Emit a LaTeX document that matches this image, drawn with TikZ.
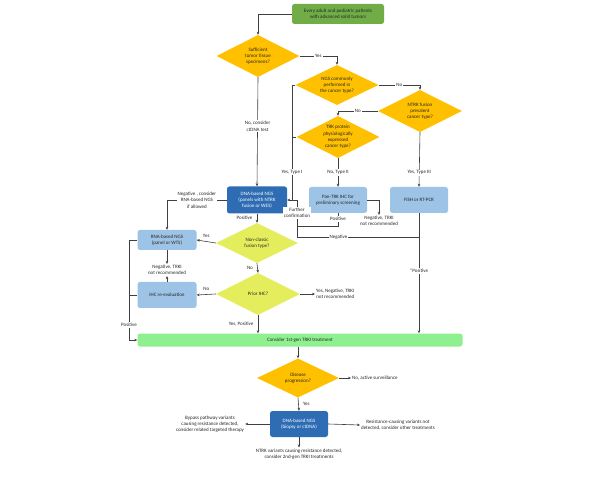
\documentclass[tikz,border=0pt]{standalone}
\usepackage{fontspec}
\setmainfont{Carlito}
\usepackage{tikz}
\usetikzlibrary{arrows.meta,arrows,positioning,shapes.geometric}
\definecolor{startgreen}{HTML}{70AD47}
\definecolor{decorange}{HTML}{FFC000}
\definecolor{declime}{HTML}{E4EE5C}
\definecolor{testblue}{HTML}{9DC3E6}
\definecolor{seqblue}{HTML}{2E6DB4}
\definecolor{bargreen}{HTML}{8EF08E}
\definecolor{linegray}{HTML}{404040}
\definecolor{textgray}{HTML}{262626}
\tikzset{
  decision/.style={diamond,fill=decorange,inner sep=0pt,shape aspect=2,
    minimum width=83pt,minimum height=42pt,align=center},
  subdecision/.style={decision,fill=declime},
  test/.style={rectangle,rounded corners=2.5pt,fill=testblue,inner sep=1pt,
    minimum width=59pt,minimum height=26pt,align=center},
  seq/.style={test,fill=seqblue,text=white},
  note/.style={align=center,inner sep=1pt},
  lbl/.style={fill=white,inner sep=1pt,align=center},
  conn/.style={draw=linegray,line width=0.6pt},
  every node/.style={font=\fontsize{5}{6.3}\selectfont,text=textgray}
}
\tikzstyle{arrow} = [conn,->,>={Stealth[length=3pt,width=2.6pt]}]

\begin{document}
\begin{tikzpicture}[x=1pt,y=-1pt]
  \useasboundingbox[fill=white] (0,0) rectangle (597,478);
  \node[test,fill=startgreen,minimum width=92pt,minimum height=20pt] (start) at (338,14)
    {Every adult and pediatric patients\\with advanced solid tumors};
  \node[decision] (tissue) at (258,56) {Sufficient\\tumor tissue\\specimens?};
  \node[decision,minimum height=40pt] (ngsdec) at (337,85) {NGS commonly\\performed in\\the cancer type?};
  \node[decision,minimum width=84pt] (prevalent) at (420,111) {NTRK fusion\\prevalent\\cancer type?};
  \node[decision] (expressed) at (338,137) {TRK protein\\physiologically\\expressed\\cancer type?};
  \node[seq,minimum width=60pt,minimum height=27pt] (dnangs) at (257,200)
    {DNA-based NGS\\(panels with NTRK\\fusion or WES)};
  \node[test,minimum width=58pt] (pantrk) at (338,200) {Pan-TRK IHC for\\preliminary screening};
  \node[test,minimum width=58pt] (fish) at (419,200) {FISH or RT-PCR};
  \node[note] (pantrkneg) at (379,221) {Negative, TRKI\\not recommended};
  \node[subdecision,minimum width=82pt,minimum height=40pt] (nonclassic) at (257,243)
    {Non-classic\\fusion type?};
  \node[test,minimum height=20pt] (rnangs) at (167,240) {RNA-based NGS\\(panel or WTS)};
  \node[note] (rnaneg) at (167,270) {Negative, TRKI\\not recommended};
  \node[test] (ihcre) at (167,295) {IHC re-evaluation};
  \node[subdecision,minimum width=84pt] (prior) at (258,294) {Prior IHC?};
  \node[note,anchor=west] (priorneg) at (315,294) {Yes, Negative, TRKI\\not recommended};
  \node[test,fill=bargreen,minimum width=325pt,minimum height=13pt] (treat) at (300,340)
    {Consider 1st-gen TRKI treatment};
  \node[decision,minimum width=82pt,minimum height=39pt] (progress) at (298,378)
    {Disease\\progression?};
  \node[note,anchor=west] (surv) at (351,378) {No, active surveillance};
  \node[seq,minimum width=58pt] (dnangs2) at (299,424) {DNA-based NGS\\(biopsy or ctDNA)};
  \node[note] (bypass) at (210,424)
    {Bypass pathway variants\\causing resistance detected,\\consider related targeted therapy};
  \node[note] (other) at (398,425)
    {Resistance-causing variants not\\detected, consider other treatments};
  \node[note] (ntrkvar) at (299,454)
    {NTRK variants causing resistance detected,\\consider 2nd-gen TRKI treatments};

  \coordinate (typeone) at (292,200);
  \coordinate (confirm) at (297,226);
  \coordinate (negjoin) at (419,237);
  \coordinate (leftrail) at (129,340);

  \draw[arrow] (start.west) -| (tissue.north);
  \draw[arrow] (tissue.east) -| node[lbl,pos=0.25] {Yes} (ngsdec.north);
  \draw[arrow] (tissue.south) -- node[lbl,pos=0.45] {No, consider\\ctDNA test} (dnangs.north);
  \draw[arrow] (ngsdec.east) -| node[lbl,pos=0.25] {No} (prevalent.north);
  \draw[arrow] (prevalent.west) -| node[lbl,pos=0.25] {No} (expressed.north);
  \draw[conn] (ngsdec.west) -| node[lbl,pos=0.88] {Yes, Type I} (typeone);
  \draw[conn] (expressed.west) -- (expressed.west -| typeone);
  \draw[arrow] (confirm |- dnangs.east) -- (dnangs.east);
  \draw[conn] (typeone) -- (confirm |- typeone);
  \draw[arrow] (expressed.south) -- node[lbl] {No, Type II} (pantrk.north);
  \draw[arrow] (prevalent.south) -- node[lbl,pos=0.74] {Yes, Type III} (fish.north);
  \draw[arrow] (pantrk.east) -| (pantrkneg.north);
  \draw[conn] (pantrk.south) -- node[lbl,pos=0.45] {Positive} (pantrk.south |- confirm) -- (confirm)
    -- node[lbl,pos=0.5] {Further\\confirmation} (confirm |- dnangs.east);
  \draw[conn] (negjoin) -- node[lbl,pos=0.66] {Negative} (negjoin -| confirm) -- (confirm);
  \draw[arrow] (fish.south) -- node[lbl,pos=0.48] {*Positive} (fish.south |- treat.north);
  \draw[arrow] (dnangs.west) -| node[lbl,pos=0.25] {Negative , consider\\RNA-based NGS\\if allowed} (rnangs.north);
  \draw[arrow] (dnangs.south) -- node[left=1pt,pos=0.5] {Positive} (nonclassic.north);
  \draw[arrow] (nonclassic.west) -- node[above=0.5pt] {Yes} (rnangs.east);
  \draw[arrow] (nonclassic.south) -- node[left=1pt] {No} (prior.north);
  \draw[arrow] (rnangs.south) -- (rnaneg.north);
  \draw[arrow] (ihcre.north) -- (rnaneg.south);
  \draw[arrow] (prior.west) -- node[above=0.5pt] {No} (ihcre.east);
  \draw[arrow] (prior.east) -- (priorneg.west);
  \draw[arrow] (prior.south) -- node[left=1pt] {Yes, Positive} (prior.south |- treat.north);
  \draw[arrow] (rnangs.west) -| node[lbl,pos=0.925] {Positive} (leftrail) -- (treat.west);
  \draw[conn] (ihcre.west) -- (ihcre.west -| leftrail);
  \draw[arrow] (treat.south -| progress.north) -- (progress.north);
  \draw[arrow] (progress.east) -- (surv.west);
  \draw[arrow] (progress.south) -- node[right=1pt] {Yes} (dnangs2.north);
  \draw[arrow] (dnangs2.west) -- (bypass.east);
  \draw[arrow] (dnangs2.east) -- (other.west);
  \draw[arrow] (dnangs2.south) -- (ntrkvar.north);
\end{tikzpicture}
\end{document}
